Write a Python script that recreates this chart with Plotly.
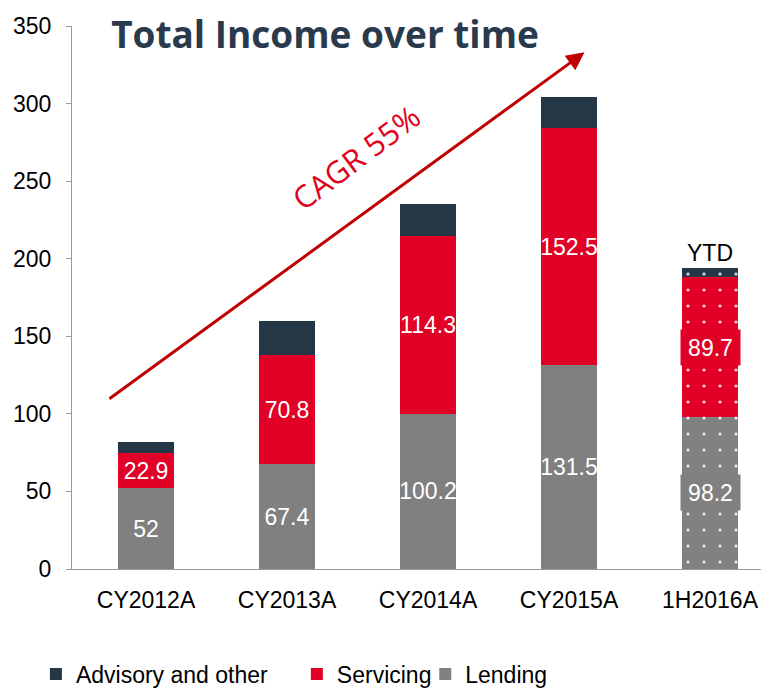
import plotly.graph_objects as go

categories = ["CY2012A", "CY2013A", "CY2014A", "CY2015A", "1H2016A"]
lending = [52, 67.4, 100.2, 131.5, 98.2]
servicing = [22.9, 70.8, 114.3, 152.5, 89.7]
advisory = [7.0, 21.8, 20.8, 20.3, 6.0]
y_ticks = [0, 50, 100, 150, 200, 250, 300, 350]

C_ADV = "#253746"
C_SERV = "#e10026"
C_LEND = "#808080"
FONT = "Liberation Sans, Arial, sans-serif"

patterns = ["", "", "", "", "."]
last = len(categories) - 1

# page body has an 8px default margin; size the figure to fit the window
W, H = 761, 682

def fmt(v):
    return ("%g" % v)

fig = go.Figure()

def add(name, vals, color, legend, labels):
    fig.add_trace(go.Bar(
        x=categories, y=vals, name=name, legend=legend,
        marker=dict(color=color, line=dict(width=0),
                    pattern=dict(shape=patterns, fillmode="overlay", fgcolor="white",
                                 fgopacity=0.85, size=16, solidity=0.03)),
        width=0.4,
        text=[fmt(v) if (labels and i != last) else "" for i, v in enumerate(vals)],
        textposition="inside", insidetextanchor="middle", textangle=0,
        constraintext="none",
        textfont=dict(color="white", size=23, family=FONT),
        hoverinfo="skip",
    ))

add("Lending", lending, C_LEND, "legend3", True)
add("Servicing", servicing, C_SERV, "legend2", True)
add("Advisory and other", advisory, C_ADV, "legend", False)

annotations = []
annotations.append(dict(x=categories[last], y=lending[last] / 2, text=fmt(lending[last]),
                        showarrow=False, font=dict(color="white", size=23, family=FONT),
                        bgcolor=C_LEND, width=57, height=33, xref="x", yref="y"))
annotations.append(dict(x=categories[last], y=lending[last] + servicing[last] / 2,
                        text=fmt(servicing[last]), showarrow=False,
                        font=dict(color="white", size=23, family=FONT),
                        bgcolor=C_SERV, width=57, height=33, xref="x", yref="y"))
total_last = lending[last] + servicing[last] + advisory[last]
annotations.append(dict(x=categories[last], y=total_last, text="YTD", showarrow=False,
                        yanchor="bottom", font=dict(color="black", size=23, family=FONT),
                        xref="x", yref="y"))
annotations.append(dict(x=3.11, y=333, ax=-0.27, ay=109, xref="x", yref="y",
                        axref="x", ayref="y", showarrow=True, arrowhead=2, arrowsize=1.2,
                        arrowwidth=3, arrowcolor="#c00000", text=""))
annotations.append(dict(x=1.49, y=265.5, xref="x", yref="y", text="CAGR 55%",
                        showarrow=False, textangle=-37,
                        font=dict(color="#e2001a", size=31, family="Open Sans")))

leg_common = dict(orientation="h", y=-0.1934, yanchor="middle",
                  font=dict(size=23, family=FONT), bgcolor="rgba(0,0,0,0)")

fig.update_layout(
    width=W, height=H,
    barmode="stack",
    plot_bgcolor="white", paper_bgcolor="white",
    margin=dict(l=64, r=3, t=18, b=121, autoexpand=False),
    title=dict(text="<b>Total Income over time</b>", x=317 / W, xanchor="center",
               y=1 - 27 / H, yanchor="middle", xref="container", yref="container",
               font=dict(family="Open Sans", size=37, color="#2a3a4c")),
    font=dict(family=FONT, size=23, color="black"),
    annotations=annotations,
    legend=dict(x=-0.052, xanchor="left", **leg_common),
    legend2=dict(x=0.324, xanchor="left", **leg_common),
    legend3=dict(x=0.509, xanchor="left", **leg_common),
    showlegend=True,
)
fig.update_xaxes(range=[-0.525, 4.397], showline=True, linecolor="#999999", linewidth=1,
                 ticks="", showgrid=False, tickfont=dict(size=23, family=FONT),
                 ticklabelstandoff=10, automargin=False)
fig.update_yaxes(range=[0, 350], tickvals=y_ticks, showline=True, linecolor="#999999",
                 linewidth=1, ticks="outside", ticklen=5, tickcolor="#999999",
                 showgrid=False, zeroline=False, tickfont=dict(size=23, family=FONT),
                 ticklabelstandoff=10, automargin=False)

fig.write_html("out.html")
